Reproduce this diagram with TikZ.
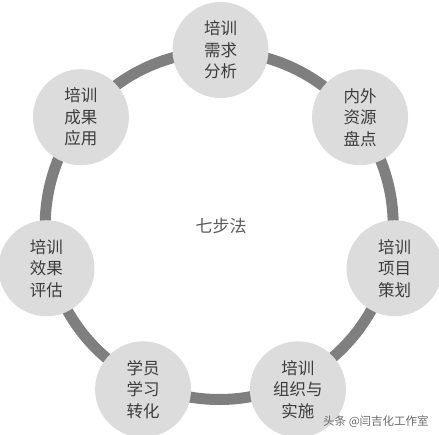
\documentclass[tikz,border=0pt]{standalone}
\usepackage{fontspec}
\newfontfamily\cjk{Noto Sans CJK SC}
\definecolor{ringgray}{HTML}{7F7F7F}
\definecolor{nodegray}{HTML}{DCDCDC}
\definecolor{textgray}{HTML}{3C3C3C}
\definecolor{centergray}{HTML}{5A5A5A}
\definecolor{markgray}{HTML}{6A6A6A}
\tikzset{
  stepnode/.style={circle, fill=nodegray, minimum size=96pt, inner sep=0pt,
    align=center, text=textgray, font=\cjk\fontsize{16.5}{21.5}\selectfont},
  ringline/.style={draw=ringgray, line width=11pt}
}
\begin{document}
\begin{tikzpicture}[x=1pt,y=-1pt]
\useasboundingbox[fill=white] (0,0) rectangle (439,434);
\coordinate (rc) at (219.2,225.5);
\coordinate (c) at (220.5,228.5);
\draw[ringline] (rc) circle[radius=174];
\node[stepnode] (n0) at ([shift={(-90:178.5)}]c) {培训\\需求\\分析};
\node[stepnode] (n1) at ([shift={(-38.57:178.5)}]c) {内外\\资源\\盘点};
\node[stepnode] (n2) at ([shift={(12.86:178.5)}]c) {培训\\项目\\策划};
\node[stepnode] (n3) at ([shift={(64.29:178.5)}]c) {培训\\组织与\\实施};
\node[stepnode] (n4) at ([shift={(115.71:178.5)}]c) {学员\\学习\\转化};
\node[stepnode] (n5) at ([shift={(167.14:178.5)}]c) {培训\\效果\\评估};
\node[stepnode] (n6) at ([shift={(218.57:178.5)}]c) {培训\\成果\\应用};
\node[text=centergray, font=\cjk\fontsize{17}{19}\selectfont] (title) at (221,226) {七步法};
\node[text=markgray, font=\cjk\fontsize{11.5}{13}\selectfont, anchor=west, inner sep=0pt] (mark) at (323,422) {头条 @闫吉化工作室};
\end{tikzpicture}
\end{document}
